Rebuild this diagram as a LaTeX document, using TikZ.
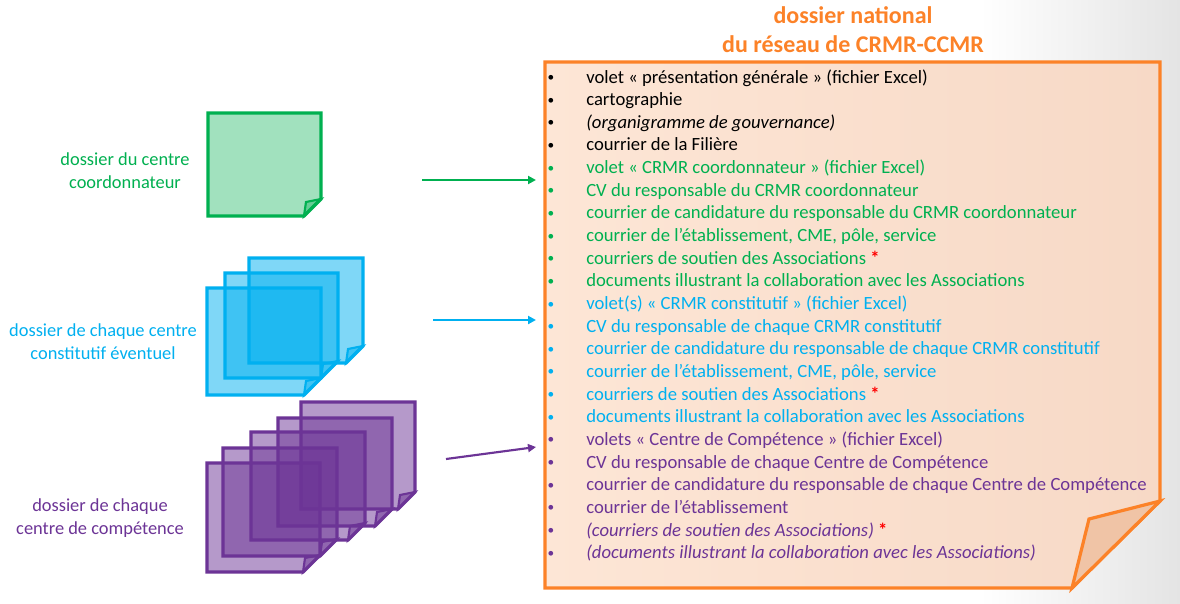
\documentclass[tikz,border=0pt]{standalone}
\usepackage{fontspec}
\setmainfont{Carlito}
\usetikzlibrary{arrows.meta}
\definecolor{cgreen}{RGB}{0,176,80}
\definecolor{cblue}{RGB}{0,176,240}
\definecolor{cpurple}{RGB}{108,52,150}
\definecolor{corange}{RGB}{252,130,40}
\definecolor{peachL}{RGB}{253,230,214}
\definecolor{peachR}{RGB}{247,217,198}
\definecolor{flapc}{RGB}{240,196,166}
\definecolor{bggray}{RGB}{228,228,228}
\newcommand\sheet[6]{% #1 x, #2 y, #3 w, #4 h, #5 colour, #6 fill opacity
  \path[draw=#5,fill=#5,fill opacity=#6,line width=2.4pt,line join=miter]
    (#1,#2) -- ++(#3,0) -- ++(0,#4-17) -- ++(-17,17) -- ++(-#3+17,0) -- cycle;
  \path[draw=#5,fill=#5,fill opacity=#6,line width=1.6pt,line join=miter]
    ({#1+#3-17},{#2+#4}) -- ++(2,-14) -- ++(15,-3) -- cycle;
}
\newcommand\li[3]{%
  \node[item,text=#2] (l#1) at (586,{83+22.65*#1}) {#3};
  \node[bul,text=#2] (b#1) at (551,{81.5+22.65*#1}) {•};
}
\newcommand\redast{\textcolor{red}{\textbf{*}}}
\begin{document}
\begin{tikzpicture}[x=0.75pt,y=-0.75pt,
  item/.style={anchor=base west,inner sep=0pt,font=\fontsize{14}{16}\selectfont},
  bul/.style={anchor=base,inner sep=0pt,font=\fontsize{10}{12}\selectfont},
  lab/.style={align=center,inner sep=0pt,font=\fontsize{13.8}{17.25}\selectfont},
  arr/.style={line width=1.6pt,-{Triangle[length=6pt,width=6pt]}}]
\useasboundingbox (0,0) rectangle (1180,603);
\fill[white] (0,0) rectangle (1180,603);
\shade[left color=white,right color=bggray] (980,0) rectangle (1180,603);
% title
\node[align=center,text=corange,font=\fontsize{18}{21.75}\selectfont\bfseries,inner sep=0pt] (title) at (853,30) {dossier national\\du réseau de CRMR-CCMR};
% big box
\shade[left color=peachL,right color=peachR] (545,62) -- (1160,62) -- (1160,501) -- (1072,588) -- (545,588) -- cycle;
\draw[corange,line width=2.4pt,line join=miter] (545,62) -- (1160,62) -- (1160,501) -- (1072,588) -- (545,588) -- cycle;
\filldraw[fill=flapc,draw=corange,line width=2.4pt,line join=miter] (1072,588) -- (1089,519) -- (1160,501) -- cycle;
% list
\li{0}{black}{volet « présentation générale » (fichier Excel)}
\li{1}{black}{cartographie}
\li{2}{black}{\textit{(organigramme de gouvernance)}}
\li{3}{black}{courrier de la Filière}
\li{4}{cgreen}{volet « CRMR coordonnateur » (fichier Excel)}
\li{5}{cgreen}{CV du responsable du CRMR coordonnateur}
\li{6}{cgreen}{courrier de candidature du responsable du CRMR coordonnateur}
\li{7}{cgreen}{courrier de l’établissement, CME, pôle, service}
\li{8}{cgreen}{courriers de soutien des Associations \redast}
\li{9}{cgreen}{documents illustrant la collaboration avec les Associations}
\li{10}{cblue}{volet(s) « CRMR constitutif » (fichier Excel)}
\li{11}{cblue}{CV du responsable de chaque CRMR constitutif}
\li{12}{cblue}{courrier de candidature du responsable de chaque CRMR constitutif}
\li{13}{cblue}{courrier de l’établissement, CME, pôle, service}
\li{14}{cblue}{courriers de soutien des Associations \redast}
\li{15}{cblue}{documents illustrant la collaboration avec les Associations}
\li{16}{cpurple}{volets « Centre de Compétence » (fichier Excel)}
\li{17}{cpurple}{CV du responsable de chaque Centre de Compétence}
\li{18}{cpurple}{courrier de candidature du responsable de chaque Centre de Compétence}
\li{19}{cpurple}{courrier de l’établissement}
\li{20}{cpurple}{\textit{(courriers de soutien des Associations)} \redast}
\li{21}{cpurple}{\textit{(documents illustrant la collaboration avec les Associations)}}
% green sheet
\sheet{208}{113}{113}{103}{cgreen}{0.37}
% blue sheets
\sheet{249}{258}{114}{105}{cblue}{0.5}
\sheet{225}{273}{113}{105}{cblue}{0.5}
\sheet{207}{288}{114}{107}{cblue}{0.5}
% purple sheets
\sheet{301}{402}{114}{107}{cpurple}{0.5}
\sheet{278}{418}{114}{108}{cpurple}{0.5}
\sheet{251}{432}{114}{108}{cpurple}{0.5}
\sheet{223}{448}{114}{108}{cpurple}{0.5}
\sheet{207}{463}{113}{109}{cpurple}{0.5}
% labels
\node[lab,text=cgreen] (lg) at (125,171) {dossier du centre\\coordonnateur};
\node[lab,text=cblue] (lb) at (103,342) {dossier de chaque centre\\constitutif éventuel};
\node[lab,text=cpurple] (lp) at (100,518) {dossier de chaque\\centre de compétence};
% arrows
\coordinate (gs) at (422,180); \coordinate (ge) at (536,180);
\coordinate (bs) at (433,320); \coordinate (be) at (536,320);
\coordinate (ps) at (446,459); \coordinate (pe) at (536,447);
\draw[arr,cgreen] (gs) -- (ge);
\draw[arr,cblue] (bs) -- (be);
\draw[arr,cpurple] (ps) -- (pe);
\end{tikzpicture}
\end{document}
